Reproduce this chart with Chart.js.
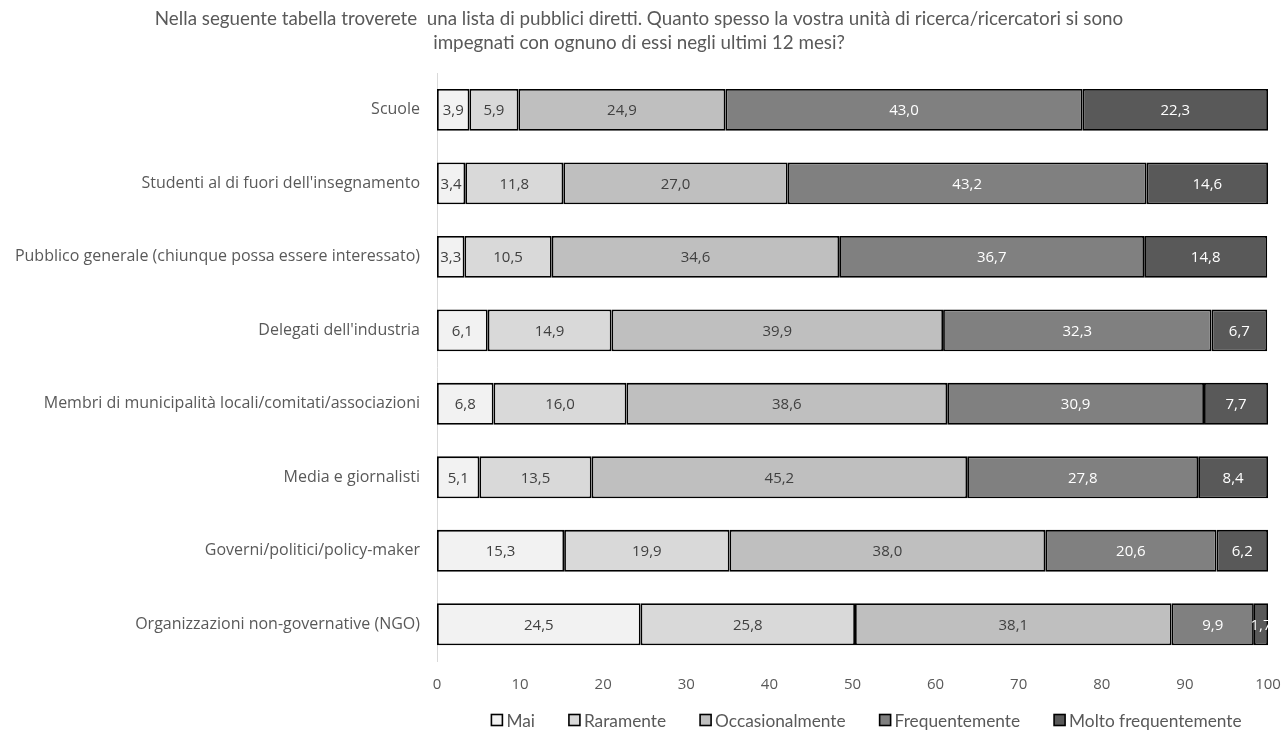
<!DOCTYPE html>
<html>
<head>
<meta charset="utf-8">
<script src="https://cdn.jsdelivr.net/npm/chart.js@4.4.1/dist/chart.umd.min.js"></script>
<style>
  html, body { margin: 0; padding: 0; background: #fff; }
  #wrap { width: 1285px; height: 735px; }
</style>
</head>
<body>
<div id="wrap"><canvas id="c" width="1285" height="735"></canvas></div>
<script>
const categories = [
  "Scuole",
  "Studenti al di fuori dell'insegnamento",
  "Pubblico generale (chiunque possa essere interessato)",
  "Delegati dell'industria",
  "Membri di municipalità locali/comitati/associazioni",
  "Media e giornalisti",
  "Governi/politici/policy-maker",
  "Organizzazioni non-governative (NGO)"
];
const mai = [3.9, 3.4, 3.3, 6.1, 6.8, 5.1, 15.3, 24.5];
const raramente = [5.9, 11.8, 10.5, 14.9, 16.0, 13.5, 19.9, 25.8];
const occasionalmente = [24.9, 27.0, 34.6, 39.9, 38.6, 45.2, 38.0, 38.1];
const frequentemente = [43.0, 43.2, 36.7, 32.3, 30.9, 27.8, 20.6, 9.9];
const moltoFrequentemente = [22.3, 14.6, 14.8, 6.7, 7.7, 8.4, 6.2, 1.7];
const xTicks = [0, 10, 20, 30, 40, 50, 60, 70, 80, 90, 100];
const titleLines = [
  "Nella seguente tabella troverete  una lista di pubblici diretti. Quanto spesso la vostra unità di ricerca/ricercatori si sono",
  "impegnati con ognuno di essi negli ultimi 12 mesi?"
];

const seriesDefs = [
  { label: "Mai", data: mai, color: "#f2f2f2", text: "#404040" },
  { label: "Raramente", data: raramente, color: "#d9d9d9", text: "#404040" },
  { label: "Occasionalmente", data: occasionalmente, color: "#bfbfbf", text: "#404040" },
  { label: "Frequentemente", data: frequentemente, color: "#808080", text: "#ffffff" },
  { label: "Molto frequentemente", data: moltoFrequentemente, color: "#595959", text: "#ffffff" }
];

const FONT = "'Open Sans', 'DejaVu Sans', sans-serif";
const TITLE_FONT = "Lato, 'Open Sans', sans-serif";

// Writes each segment's value (comma decimal) in the middle of the bar
const barValueLabels = {
  id: 'barValueLabels',
  afterDatasetsDraw(chart) {
    const ctx = chart.ctx;
    const area = chart.chartArea;
    ctx.save();
    ctx.beginPath();
    ctx.rect(area.left, area.top, area.right - area.left, area.bottom - area.top);
    ctx.clip();
    ctx.font = "15px " + FONT;
    ctx.textAlign = 'center';
    ctx.textBaseline = 'middle';
    chart.data.datasets.forEach((ds, di) => {
      const meta = chart.getDatasetMeta(di);
      meta.data.forEach((bar, i) => {
        const v = ds.data[i];
        const { x, base, y } = bar.getProps(['x', 'base', 'y'], true);
        ctx.fillStyle = seriesDefs[di].text;
        ctx.fillText(v.toFixed(1).replace('.', ','), (x + base) / 2, y + 1);
      });
    });
    ctx.restore();
  }
};

// Compact legend row under the x axis: small outlined swatch, tight text gap
const bottomLegend = {
  id: 'bottomLegend',
  afterDraw(chart) {
    const ctx = chart.ctx;
    const area = chart.chartArea;
    const box = 11, textGap = 4, itemGap = 34;
    ctx.save();
    ctx.font = "17.3px " + TITLE_FONT;
    ctx.textBaseline = 'middle';
    const widths = seriesDefs.map(s => box + textGap + ctx.measureText(s.label).width);
    const total = widths.reduce((a, b) => a + b, 0) + itemGap * (widths.length - 1);
    let x = (area.left + area.right) / 2 + 14 - total / 2;
    const y = chart.height - 15;
    seriesDefs.forEach((s, i) => {
      ctx.fillStyle = s.color;
      ctx.fillRect(x, y - box / 2, box, box);
      ctx.strokeStyle = '#000000';
      ctx.lineWidth = 1.6;
      ctx.strokeRect(x, y - box / 2, box, box);
      ctx.fillStyle = '#595959';
      ctx.textAlign = 'left';
      ctx.fillText(s.label, x + box + textGap, y + 1);
      x += widths[i] + itemGap;
    });
    ctx.restore();
  }
};

new Chart(document.getElementById('c'), {
  type: 'bar',
  data: {
    labels: categories,
    datasets: seriesDefs.map(s => ({
      label: s.label,
      data: s.data,
      backgroundColor: s.color,
      borderColor: '#000000',
      borderWidth: 1.8,
      borderSkipped: false,
      categoryPercentage: 1.0,
      barPercentage: 0.57
    }))
  },
  options: {
    indexAxis: 'y',
    responsive: false,
    animation: false,
    layout: { padding: { left: 10, right: 17, top: 4, bottom: 42 } },
    plugins: {
      title: {
        display: true,
        text: titleLines,
        color: '#595959',
        font: { family: TITLE_FONT, size: 18.8, weight: 'normal', lineHeight: 1.28 },
        padding: { top: 3, bottom: 18 }
      },
      legend: { display: false },
      tooltip: { enabled: false }
    },
    scales: {
      x: {
        stacked: true,
        min: 0,
        max: 100,
        afterBuildTicks(axis) { axis.ticks = xTicks.map(v => ({ value: v })); },
        afterFit(axis) { axis.paddingLeft = 0; axis.paddingRight = 0; axis.height = 32; },
        grid: { display: false, drawTicks: false },
        border: { display: false },
        ticks: { color: '#595959', font: { family: FONT, size: 15 }, padding: 15 }
      },
      y: {
        stacked: true,
        grid: { display: false, drawTicks: false },
        border: { display: true, color: '#d9d9d9', width: 1 },
        ticks: { color: '#595959', font: { family: FONT, size: 16 }, padding: 17 },
        afterFit(axis) { axis.width = 427; axis.paddingTop = 0; axis.paddingBottom = 0; }
      }
    }
  },
  plugins: [barValueLabels, bottomLegend]
});
</script>
</body>
</html>
